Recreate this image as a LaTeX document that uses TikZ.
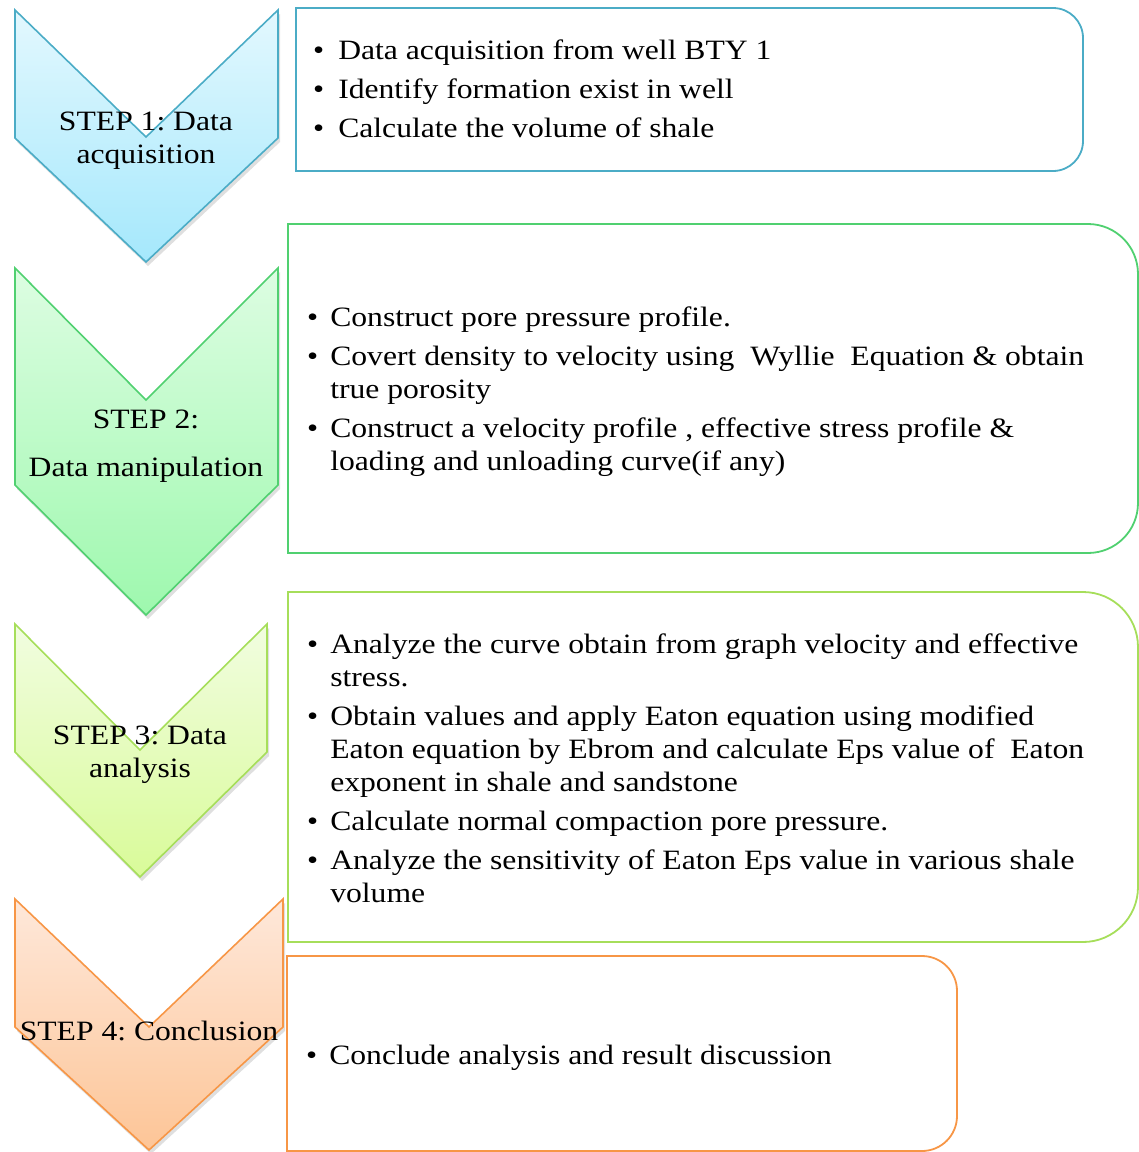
\documentclass[tikz,border=0pt]{standalone}
\usepackage{fontspec}
\setmainfont{Liberation Serif}[FakeStretch=1.13]
\usetikzlibrary{shadows}

\definecolor{oneline}{HTML}{4BACC6}
\definecolor{onetop}{HTML}{E3F8FE}
\definecolor{onebot}{HTML}{A5E8FC}
\definecolor{twoline}{HTML}{50D070}
\definecolor{twotop}{HTML}{DDFDE2}
\definecolor{twobot}{HTML}{9EF8AE}
\definecolor{threeline}{HTML}{A6DE5A}
\definecolor{threetop}{HTML}{F1FDE0}
\definecolor{threebot}{HTML}{D9FB99}
\definecolor{fourline}{HTML}{F79646}
\definecolor{fourtop}{HTML}{FEE8DA}
\definecolor{fourbot}{HTML}{FDC597}

\newcommand{\bt}{\textbullet}
\frenchspacing

\tikzset{
  chevron/.style={line width=1.6pt, drop shadow={shadow xshift=2pt, shadow yshift=-4pt, opacity=0.25}},
  listbox/.style={line width=1.8pt},
  steptext/.style={font=\fontsize{28}{33}\selectfont, align=center, inner sep=0pt},
  bodytext/.style={font=\fontsize{28}{33}\selectfont, anchor=west, inner sep=0pt},
}

\begin{document}
\begin{tikzpicture}[x=1pt,y=-1pt]

\useasboundingbox (0,0) rectangle (1139,1152);

% step 1
\path [chevron, draw=oneline, top color=onetop, bottom color=onebot]
(15,10)--(146,137)--(278,10)--(278,138)--(146,262)--(15,138)--cycle;
\node [steptext] (s1) at (146,141) {STEP 1: Data\\acquisition};
\draw [listbox, oneline] (296,171)--(296,8) [rounded corners=30pt]--(1083,8)--(1083,171) [sharp corners]--cycle;
\node [bodytext] (b1) at (313,92) {\begin{tabular}{@{}l@{\hspace{14pt}}l@{}}
\bt & Data acquisition from well BTY 1\\[6pt]
\bt & Identify formation exist in well\\[6pt]
\bt & Calculate the volume of shale
\end{tabular}};

% step 2
\path [chevron, draw=twoline, top color=twotop, bottom color=twobot]
(15,268)--(146,400)--(278,268)--(278,485)--(146,615)--(15,485)--cycle;
\node [steptext] (s2) at (146,446) {STEP 2:\\[15pt]Data manipulation};
\draw [listbox, twoline] (288,553)--(288,224) [rounded corners=50pt]--(1138,224)--(1138,553) [sharp corners]--cycle;
\node [bodytext] (b2) at (307,392) {\begin{tabular}{@{}l@{\hspace{12pt}}l@{}}
\bt & Construct pore pressure profile.\\[6pt]
\bt & Covert density to velocity using~ Wyllie~ Equation \& obtain\\
    & true porosity\\[6pt]
\bt & Construct a velocity profile , effective stress profile \&\\
    & loading and unloading curve(if any)
\end{tabular}};

% step 3
\path [chevron, draw=threeline, top color=threetop, bottom color=threebot]
(15,624)--(140,750)--(267,624)--(267,752)--(140,877)--(15,752)--cycle;
\node [steptext] (s3) at (140,755) {STEP 3: Data\\analysis};
\draw [listbox, threeline] (288,942)--(288,592) [rounded corners=55pt]--(1138,592)--(1138,942) [sharp corners]--cycle;
\node [bodytext] (b3) at (307,771) {\begin{tabular}{@{}l@{\hspace{12pt}}l@{}}
\bt & Analyze the curve obtain from graph velocity and effective\\
    & stress.\\[6pt]
\bt & Obtain values and apply Eaton equation using modified\\
    & Eaton equation by Ebrom and calculate Eps value of~ Eaton\\
    & exponent in shale and sandstone\\[6pt]
\bt & Calculate normal compaction pore pressure.\\[6pt]
\bt & Analyze the sensitivity of Eaton Eps value in various shale\\
    & volume
\end{tabular}};

% step 4
\path [chevron, draw=fourline, top color=fourtop, bottom color=fourbot]
(15,899)--(149,1027)--(283,899)--(283,1027)--(149,1150)--(15,1027)--cycle;
\node [steptext] (s4) at (149,1031) {STEP 4: Conclusion};
\draw [listbox, fourline] (287,1151)--(287,956) [rounded corners=35pt]--(957,956)--(957,1151) [sharp corners]--cycle;
\node [bodytext] (b4) at (306,1058) {\begin{tabular}{@{}l@{\hspace{12pt}}l@{}}
\bt & Conclude analysis and result discussion
\end{tabular}};

\end{tikzpicture}
\end{document}
